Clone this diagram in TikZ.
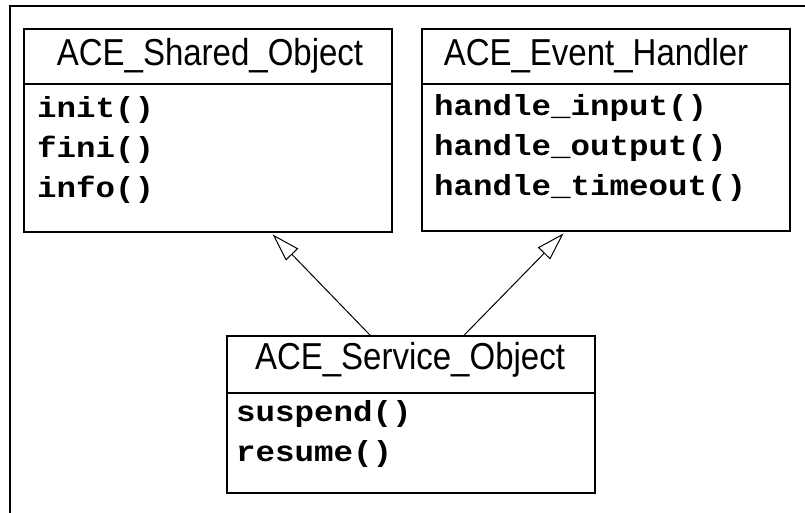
\documentclass[tikz,border=0pt]{standalone}
\usepackage{fontspec}
\usetikzlibrary{arrows.meta,calc}
\newfontfamily\titlefont{Liberation Sans}[FakeStretch=0.88]
\newfontfamily\codefont{Liberation Mono}[FakeStretch=1.12]
\tikzset{
  frameline/.style={line width=2pt, line cap=rect},
  part/.style={draw, line width=2pt, rectangle, minimum width=368pt, inner sep=0pt, anchor=north west},
  classname/.style={anchor=base, inner sep=0pt, font=\titlefont\fontsize{37.5}{40}\selectfont},
  ops/.style={anchor=base west, inner sep=0pt, align=left, font=\codefont\bfseries\fontsize{29}{40}\selectfont},
  inherits/.style={line width=1pt, -{Triangle[open, length=28pt, width=17pt]}, shorten >=2pt},
}
\begin{document}
\begin{tikzpicture}[x=1pt, y=-1pt]
  \useasboundingbox (0,0) rectangle (805,512);
  % outer frame (only its top and left edges fall inside the page)
  \draw[frameline] (10,514) -- (10,6) -- (807,6);

  % ACE_Shared_Object
  \node[part, minimum height=55pt] (shared-head) at (23,28) {};
  \node[part, minimum height=148pt] (shared-body) at (23,83) {};
  \node[classname] (shared-name) at (210,65) {ACE\_Shared\_Object};
  % the base anchor of a multi-line node sits on its last line
  \node[ops] (shared-ops) at (37,197) {init()\\fini()\\info()};

  % ACE_Event_Handler
  \node[part, minimum height=55pt] (event-head) at (421,28) {};
  \node[part, minimum height=147pt] (event-body) at (421,83) {};
  \node[classname] (event-name) at (596,65) {ACE\_Event\_Handler};
  \node[ops] (event-ops) at (434,195) {handle\_input()\\handle\_output()\\handle\_timeout()};

  % ACE_Service_Object
  \node[part, minimum height=57pt] (service-head) at (226,335) {};
  \node[part, minimum height=100pt] (service-body) at (226,392) {};
  \node[classname] (service-name) at (410,369) {ACE\_Service\_Object};
  \node[ops] (service-ops) at (236,461) {suspend()\\resume()};

  % generalisation arrows
  \draw[inherits] ($(service-head.north west)!0.389!(service-head.north east)$)
    -- ($(shared-body.south west)!0.671!(shared-body.south east)$);
  \draw[inherits] ($(service-head.north west)!0.644!(service-head.north east)$)
    -- ($(event-body.south west)!0.389!(event-body.south east)$);
\end{tikzpicture}
\end{document}
